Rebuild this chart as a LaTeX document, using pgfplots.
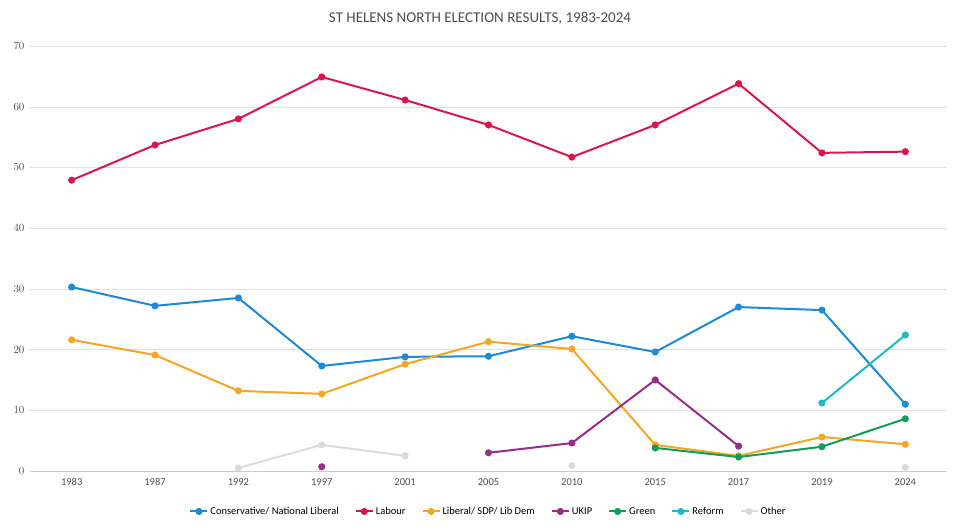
\documentclass[border=0pt]{standalone}
\usepackage{pgfplots}
\pgfplotsset{compat=1.18}
\usepackage{fontspec}
\setmainfont{Carlito}
\definecolor{con}{HTML}{1C8AD6}
\definecolor{lab}{HTML}{D9164E}
\definecolor{lib}{HTML}{F5A623}
\definecolor{ukip}{HTML}{962D8C}
\definecolor{grn}{HTML}{109D58}
\definecolor{ref}{HTML}{1DBBC6}
\definecolor{oth}{HTML}{DADADA}
\begin{document}
\begin{tikzpicture}[x=1pt,y=1pt]
\path (0,0) rectangle (960,529);
\node[font=\fontsize{15}{17}\selectfont,text=black!70] at (480,511) {ST HELENS NORTH ELECTION RESULTS, 1983-2024};
\begin{axis}[at={(30pt,58pt)},anchor=south west,scale only axis,width=917pt,height=425pt,
 xmin=-0.5,xmax=10.5,ymin=0,ymax=70,ytick={0,10,...,70},
 xtick={0,...,10},xticklabels={1983,1987,1992,1997,2001,2005,2010,2015,2017,2019,2024},
 axis line style={draw=none},tick style={draw=none},
 ymajorgrids,grid style={black!12},
 axis x line*=bottom, x axis line style={draw=black!20},
 ticklabel style={font=\fontsize{10.5}{12}\selectfont,text=black!70},
 yticklabel style={xshift=-2pt},
 xticklabel style={yshift=-4pt},
 unbounded coords=jump,
 every axis plot/.append style={line width=2pt,mark=*,mark size=2.5pt},
 legend style={at={(0.5,-0.075)},anchor=north,draw=none,font=\fontsize{10.5}{12}\selectfont,legend columns=-1,/tikz/every even column/.append style={column sep=14pt}},
 legend image code/.code={\draw[#1,line width=2pt] (0,0)--(0.6cm,0); \fill[#1] (0.3cm,0) circle (2.5pt);}
]
\addplot[con] coordinates {(0,30.3)(1,27.2)(2,28.5)(3,17.3)(4,18.8)(5,18.9)(6,22.2)(7,19.6)(8,27.0)(9,26.5)(10,11.0)};
\addlegendentry{Conservative/ National Liberal}
\addplot[lab] coordinates {(0,47.9)(1,53.7)(2,58.0)(3,64.9)(4,61.1)(5,57.0)(6,51.7)(7,57.0)(8,63.8)(9,52.4)(10,52.6)};
\addlegendentry{Labour}
\addplot[lib] coordinates {(0,21.6)(1,19.1)(2,13.2)(3,12.7)(4,17.6)(5,21.3)(6,20.1)(7,4.3)(8,2.5)(9,5.6)(10,4.4)};
\addlegendentry{Liberal/ SDP/ Lib Dem}
\addplot[ukip] coordinates {(3,0.7)(4,nan)(5,3.0)(6,4.6)(7,15.0)(8,4.1)};
\addlegendentry{UKIP}
\addplot[grn] coordinates {(7,3.8)(8,2.3)(9,4.0)(10,8.6)};
\addlegendentry{Green}
\addplot[ref] coordinates {(9,11.2)(10,22.4)};
\addlegendentry{Reform}
\addplot[oth] coordinates {(2,0.5)(3,4.3)(4,2.5)(5,nan)(6,0.9)(7,nan)(10,0.6)};
\addlegendentry{Other}
\end{axis}
\end{tikzpicture}
\end{document}
